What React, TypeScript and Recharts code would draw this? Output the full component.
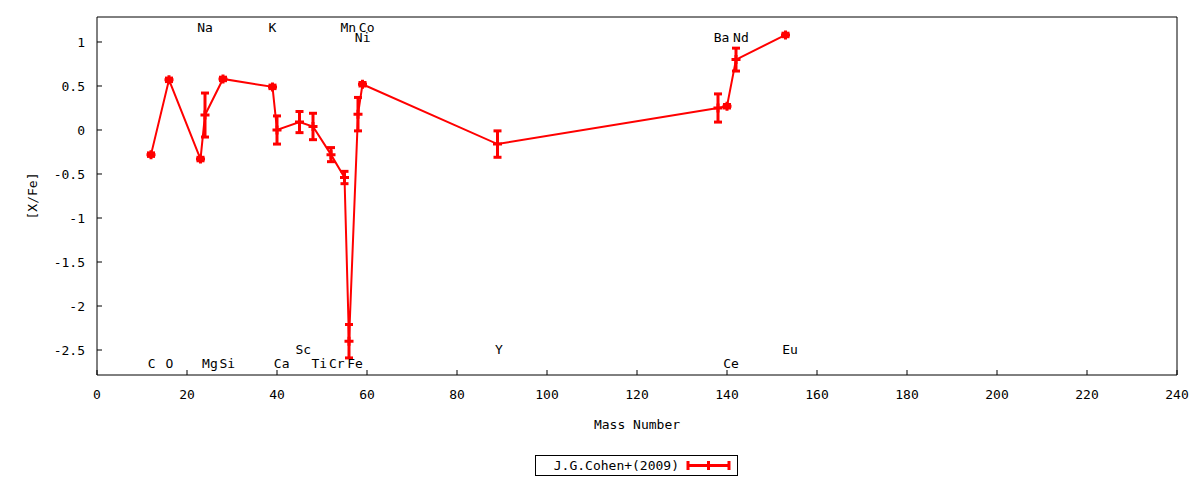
import React from 'react';
import { ComposedChart, Line, Scatter, XAxis, YAxis, ErrorBar, Legend } from 'recharts';

// Element data (J.G.Cohen+ 2009)
const elements = ['C', 'O', 'Na', 'Mg', 'Si', 'K', 'Ca', 'Sc', 'Ti', 'Cr', 'Mn', 'Fe', 'Ni', 'Co', 'Y', 'Ba', 'Ce', 'Nd', 'Eu'];
const massNumbers = [12, 16, 23, 24, 28, 39, 40, 45, 48, 52, 55, 56, 58, 59, 89, 138, 140, 142, 153];
const xFeValues = [-0.28, 0.57, -0.33, 0.17, 0.58, 0.49, 0.0, 0.09, 0.04, -0.28, -0.54, -2.4, 0.18, 0.52, -0.16, 0.25, 0.27, 0.8, 1.08];
const xFeErrors = [0.02, 0.02, 0.02, 0.25, 0.02, 0.02, 0.16, 0.12, 0.15, 0.08, 0.07, 0.19, 0.19, 0.02, 0.15, 0.16, 0.02, 0.13, 0.02];

// Element name annotations (data coordinates)
const labelNames = ['C', 'O', 'Mg', 'Si', 'Ca', 'Sc', 'Ti', 'Cr', 'Fe', 'Y', 'Ce', 'Eu', 'Na', 'K', 'Mn', 'Co', 'Ni', 'Ba', 'Nd'];
const labelX = [12.15, 16.07, 25.1, 28.96, 41.04, 45.84, 49.4, 53.27, 57.33, 89.33, 140.9, 154, 24, 38.96, 55.84, 59.93, 59.04, 138.8, 143.1];
const labelY = [-2.65, -2.65, -2.65, -2.65, -2.65, -2.49, -2.65, -2.65, -2.65, -2.49, -2.65, -2.49, 1.17, 1.17, 1.17, 1.17, 1.05, 1.05, 1.05];

// Axis ticks
const xTicks = [0, 20, 40, 60, 80, 100, 120, 140, 160, 180, 200, 220, 240];
const yTicks = [-2.5, -2, -1.5, -1, -0.5, 0, 0.5, 1];
const xDomain = [0, 240];
const yDomain = [-2.784, 1.284];

const seriesName = 'J.G.Cohen+(2009)';

const lineData = massNumbers.map((m, i) => ({ x: m, y: xFeValues[i], err: xFeErrors[i], el: elements[i] }));
const labelData = labelNames.map((n, i) => ({ x: labelX[i], y: labelY[i], name: n }));

const FONT = '"DejaVu Sans Mono", monospace';
const RED = '#ff0000';

const PlusDot = (props: any) => {
  const { cx, cy, index } = props;
  if (cx == null || cy == null) return <g key={`d${index}`} />;
  const s = 4.5;
  return (
    <path
      key={`d${index}`}
      d={`M${cx - s},${cy}H${cx + s}M${cx},${cy - s}V${cy + s}`}
      stroke={RED}
      strokeWidth={3}
      fill="none"
    />
  );
};

const LabelShape = (props: any) => {
  const { cx, cy, payload } = props;
  return (
    <text
      x={cx}
      y={cy}
      textAnchor="middle"
      dominantBaseline="central"
      fontFamily={FONT}
      fontSize={13}
      fill="#000"
    >
      {payload?.name}
    </text>
  );
};

const LegendBox = () => (
  <svg width={203} height={21} style={{ display: 'block' }}>
    <rect x={0.5} y={0.5} width={202} height={20} fill="#fff" stroke="#000" strokeWidth={1} />
    <text x={144} y={10.5} textAnchor="end" dominantBaseline="central" fontFamily={FONT} fontSize={13} fill="#000">
      {seriesName}
    </text>
    <path d="M152,10.5H195" stroke={RED} strokeWidth={3} />
    <path d="M153,6V15M194,6V15" stroke={RED} strokeWidth={3} />
    <path d="M173.5,6V15" stroke={RED} strokeWidth={3} />
  </svg>
);

export default function App() {
  return (
    <div style={{ position: 'absolute', left: 0, top: 0, width: 1200, height: 480, background: '#fff', fontFamily: FONT }}>
      <ComposedChart
        width={1200}
        height={480}
        data={lineData}
        margin={{ top: 16, right: 22, bottom: 45, left: 37 }}
        style={{ fontFamily: FONT }}
      >
        <XAxis
          dataKey="x"
          type="number"
          domain={xDomain}
          ticks={xTicks}
          allowDataOverflow
          height={60}
          tickSize={-5}
          tickMargin={20}
          axisLine={{ stroke: '#000', strokeWidth: 1 }}
          tickLine={{ stroke: '#000', strokeWidth: 1 }}
          tick={{ fill: '#000', fontSize: 13, fontFamily: FONT }}
          label={{ value: 'Mass Number', position: 'insideTop', offset: 45, fill: '#000', fontSize: 13, fontFamily: FONT }}
        />
        <XAxis
          xAxisId="top"
          orientation="top"
          dataKey="x"
          type="number"
          domain={xDomain}
          ticks={xTicks}
          allowDataOverflow
          height={1}
          tickSize={-5}
          axisLine={{ stroke: '#000', strokeWidth: 1 }}
          tickLine={{ stroke: '#000', strokeWidth: 1 }}
          tick={false}
        />
        <YAxis
          type="number"
          domain={yDomain}
          ticks={yTicks}
          allowDataOverflow
          width={60}
          tickSize={-5}
          tickMargin={17}
          axisLine={{ stroke: '#000', strokeWidth: 1 }}
          tickLine={{ stroke: '#000', strokeWidth: 1 }}
          tick={{ fill: '#000', fontSize: 13, fontFamily: FONT }}
          label={{
            value: '[X/Fe]',
            angle: -90,
            position: 'insideLeft',
            offset: -5,
            fill: '#000',
            fontSize: 13,
            fontFamily: FONT,
            style: { textAnchor: 'middle' },
          }}
        />
        <YAxis
          yAxisId="right"
          orientation="right"
          type="number"
          domain={yDomain}
          ticks={yTicks}
          allowDataOverflow
          width={1}
          tickSize={-5}
          axisLine={{ stroke: '#000', strokeWidth: 1 }}
          tickLine={{ stroke: '#000', strokeWidth: 1 }}
          tick={false}
        />
        <Scatter
          data={labelData}
          dataKey="y"
          shape={LabelShape}
          isAnimationActive={false}
          legendType="none"
        />
        <Line
          dataKey="y"
          name={seriesName}
          type="linear"
          stroke={RED}
          strokeWidth={2}
          dot={PlusDot}
          activeDot={false}
          isAnimationActive={false}
        >
          <ErrorBar dataKey="err" direction="y" width={4} strokeWidth={3} stroke={RED} isAnimationActive={false} />
        </Line>
        <Legend
          layout="horizontal"
          verticalAlign="middle"
          align="center"
          content={LegendBox}
          wrapperStyle={{ left: 535, top: 455, width: 203, height: 21 }}
        />
      </ComposedChart>
    </div>
  );
}
